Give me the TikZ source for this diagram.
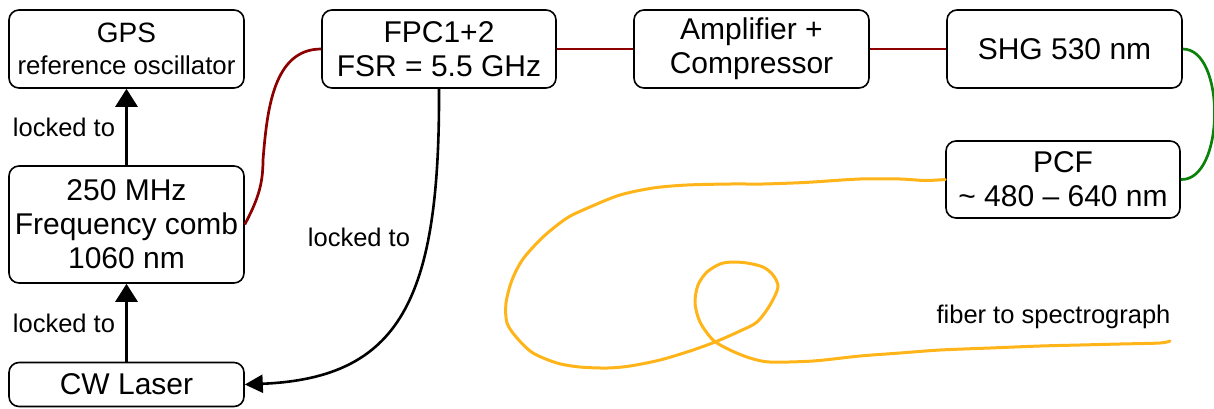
\documentclass[tikz,border=0pt]{standalone}
\usepackage{fontspec}
\setmainfont{Liberation Sans}
\usetikzlibrary{arrows.meta}
\definecolor{fibred}{RGB}{140,0,0}
\definecolor{fibgreen}{RGB}{10,130,10}
\definecolor{fibyellow}{RGB}{255,180,25}
\tikzset{
  box/.style={draw=black, line width=1.6pt, rounded corners=10pt, inner sep=0pt, align=center,
    font=\fontsize{30}{34}\selectfont},
  lbl/.style={inner sep=0pt, font=\fontsize{25.5}{29}\selectfont},
  lockarrow/.style={line width=3pt, -{Triangle[length=18pt,width=22pt]}},
  lockcurve/.style={line width=2.6pt, -{Triangle[length=18pt,width=18pt]}},
  redfib/.style={draw=fibred, line width=2.7pt},
  greenfib/.style={draw=fibgreen, line width=2.7pt},
  yellowfib/.style={draw=fibyellow, line width=3pt, line cap=round, line join=round}
}
\begin{document}
\begin{tikzpicture}[x=1pt,y=-1pt]
\useasboundingbox (0,0) rectangle (1214,408);
% boxes
\node[box, minimum width=235pt, minimum height=78pt] (gps) at (126.5,49)
  {{\fontsize{28}{32}\selectfont GPS}\\[-2pt]{\fontsize{25.8}{29}\selectfont reference oscillator}};
\node[box, minimum width=235pt, minimum height=117pt] (comb) at (126.5,224.5)
  {250 MHz\\Frequency comb\\1060 nm};
\node[box, minimum width=235pt, minimum height=44pt] (cw) at (126.5,384.5) {CW Laser};
\node[box, minimum width=234pt, minimum height=78pt] (fpc) at (439,49) {FPC1+2\\FSR = 5.5 GHz};
\node[box, minimum width=235pt, minimum height=78pt] (amp) at (751.5,49) {Amplifier +\\Compressor};
\node[box, minimum width=235pt, minimum height=78pt] (shg) at (1064.5,49) {SHG 530 nm};
\node[box, minimum width=234pt, minimum height=77pt] (pcf) at (1063,179.5) {PCF\\\char"007E\ 480 – 640 nm};
% labels
\node[lbl] (l1) at (64,127) {locked to};
\node[lbl] (l2) at (64,323) {locked to};
\node[lbl] (l3) at (359,237) {locked to};
\node[lbl] (fs) at (1053.5,317) {fiber to spectrograph};
% lock arrows
\draw[lockarrow] (comb.north) -- (gps.south);
\draw[lockarrow] (cw.north) -- (comb.south);
\draw[lockcurve] (fpc.south) .. controls (440,300) and (400,378) .. (cw.east);
% fibre connections
\draw[redfib] (comb.east) .. controls (257,201) and (263,186) .. (263,160)
  .. controls (267,111) and (273,49) .. (fpc.west);
\draw[redfib] (fpc.east) -- (amp.west);
\draw[redfib] (amp.east) -- (shg.west);
\draw[greenfib] (shg.east) .. controls (1226,49) and (1225,181) .. (pcf.east);
\draw[yellowfib] plot[smooth, tension=0.5] coordinates {
  (pcf.west) (925,180.5) (900,179) (860,179) (813,182) (793,183) (763,184) (730,184)
  (687,185) (653,188) (620,195) (590,207) (567,218) (543,237) (523,259)
  (512,280) (506,303) (507,323) (517,338) (533,353) (557,363) (580,367) (607,368)
  (630,366) (660,360) (690,351) (715,342) (740,331) (757,322) (770,305)
  (778,287) (773,275) (763,267) (747,263) (732,262) (720,264) (707,272) (698,285)
  (695,303) (700,322) (713,340) (730,350) (750,358) (770,362) (813,361)
  (860,356) (900,353) (940,350) (990,348) (1040,346) (1080,345) (1120,344) (1160,343) (1170,341)};
\end{tikzpicture}
\end{document}
